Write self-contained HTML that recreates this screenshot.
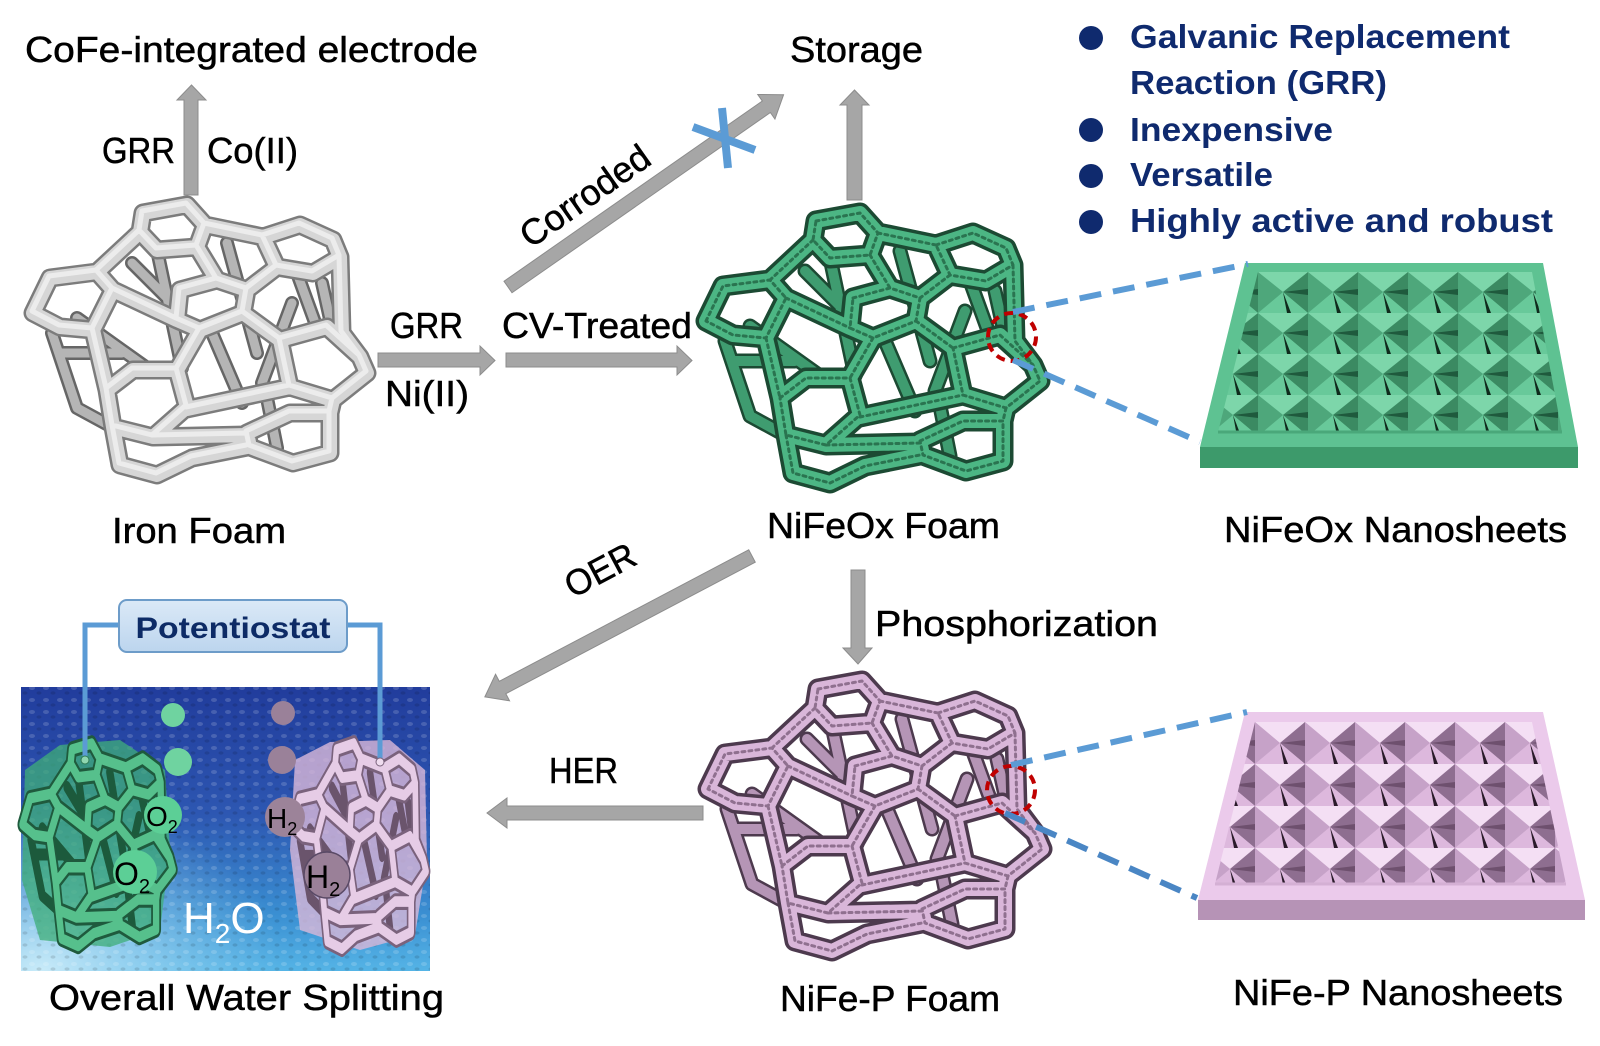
<!DOCTYPE html>
<html><head><meta charset="utf-8">
<style>
html,body{margin:0;padding:0;background:#fff;}
svg{display:block;}
text{font-family:"Liberation Sans",sans-serif;}
</style></head><body>
<svg width="1600" height="1046" viewBox="0 0 1600 1046" xmlns="http://www.w3.org/2000/svg" xmlns:xlink="http://www.w3.org/1999/xlink">
<defs>
 <path id="latB" d="M125,47 L150,165 M195,40 L225,150 M45,115 L115,165 M265,70 L285,125 M235,195 L245,245 M20,130 L45,205 L80,224 M290,80 L300,125 M100,60 L140,100 M180,130 L210,200 M260,100 L230,180 M30,150 L90,150"/>
 <path id="latF" d="M111,10 L155,2 L173,22 L165,44 L125,47 L108,29 Z M231,34 L268,22 L301,37 L308,54 L281,70 L245,64 Z M1,110 L18,75 L65,69 L81,87 L61,127 L28,124 Z M148,87 L185,77 L215,87 L211,110 L168,127 L145,117 Z M248,137 L295,124 L328,154 L335,170 L301,197 L258,184 Z M75,187 L101,167 L145,167 L155,204 L121,234 L81,224 Z M215,230 L258,210 L298,210 L298,250 L261,260 L218,244 Z M108,29 L65,69 M173,22 L231,34 M165,44 L185,77 M245,64 L215,87 M308,54 L310,130 L328,154 M61,127 L75,187 M81,87 L145,117 M211,110 L248,137 M168,127 L145,167 M155,206 L258,184 M121,234 L215,232 M301,197 L298,210 M81,224 L88,262 L125,272 L160,255 L215,244"/>

 <pattern id="gp" x="1258" y="272" width="50" height="41" patternUnits="userSpaceOnUse">
  <rect width="50" height="41" fill="#5cbf8f"/>
  <polygon points="0,0 50,0 25,20" fill="#7dd6aa"/>
  <polygon points="50,0 50,41 25,20" fill="#3b8a62"/>
  <polygon points="0,41 50,41 25,20" fill="#68c99a"/>
  <polygon points="0,0 0,41 25,20" fill="#4ea77b"/>
  <polygon points="25,20 33,41 29,41" fill="#0f2a1c"/>
  <polygon points="25,20 50,17 50,23" fill="#1f5a3d"/>
 </pattern>
 <pattern id="pp" x="1255" y="722" width="50" height="42" patternUnits="userSpaceOnUse">
  <rect width="50" height="42" fill="#e6c3e6"/>
  <polygon points="0,0 50,0 25,21" fill="#f4dff4"/>
  <polygon points="50,0 50,42 25,21" fill="#8e6e90"/>
  <polygon points="0,42 50,42 25,21" fill="#ddb8dd"/>
  <polygon points="0,0 0,42 25,21" fill="#c6a2c8"/>
  <polygon points="25,21 33,42 29,42" fill="#2a1a2a"/>
  <polygon points="25,21 50,18 50,24" fill="#6e506e"/>
 </pattern>

 <linearGradient id="water" x1="0" y1="0" x2="0" y2="1">
  <stop offset="0" stop-color="#213c9c"/>
  <stop offset="0.45" stop-color="#2d57b2"/>
  <stop offset="0.8" stop-color="#3a8fd2"/>
  <stop offset="1" stop-color="#55b4e6"/>
 </linearGradient>
 <radialGradient id="waterL" cx="0.05" cy="1" r="0.6">
  <stop offset="0" stop-color="#d6f1fb" stop-opacity="0.9"/>
  <stop offset="1" stop-color="#9ed8f2" stop-opacity="0"/>
 </radialGradient>
 <pattern id="drops" width="14" height="12" patternUnits="userSpaceOnUse">
  <ellipse cx="4" cy="4" rx="3" ry="2" fill="#fff" opacity="0.16"/>
  <ellipse cx="11" cy="9" rx="2.5" ry="1.6" fill="#000" opacity="0.12"/>
 </pattern>
 <linearGradient id="pbox" x1="0" y1="0" x2="0" y2="1">
  <stop offset="0" stop-color="#dbe9f7"/>
  <stop offset="1" stop-color="#bcd5ee"/>
 </linearGradient>
</defs>

<rect width="1600" height="1046" fill="#fff"/>

<!-- ===== Iron foam ===== -->
<g transform="translate(32,203)" fill="none" stroke-linejoin="round" stroke-linecap="round">
 <use xlink:href="#latB" href="#latB" stroke="#666" stroke-width="14"/>
 <use xlink:href="#latB" href="#latB" stroke="#b5b5b5" stroke-width="9"/>
 <use xlink:href="#latF" href="#latF" stroke="#7c7c7c" stroke-width="19"/>
 <use xlink:href="#latF" href="#latF" stroke="#d6d6d6" stroke-width="14"/>
 <use xlink:href="#latF" href="#latF" stroke="#ececec" stroke-width="5" transform="translate(-1,-2)"/>
</g>

<!-- ===== Green NiFeOx foam ===== -->
<g transform="translate(705,211)" fill="none" stroke-linejoin="round" stroke-linecap="round">
 <use xlink:href="#latB" href="#latB" stroke="#1c4a33" stroke-width="15"/>
 <use xlink:href="#latB" href="#latB" stroke="#3f9c70" stroke-width="10"/>
 <use xlink:href="#latF" href="#latF" stroke="#1c4a33" stroke-width="21"/>
 <use xlink:href="#latF" href="#latF" stroke="#4cb684" stroke-width="14"/>
 <use xlink:href="#latF" href="#latF" stroke="#2a7450" stroke-width="3" stroke-dasharray="3 4"/>
</g>

<!-- ===== Pink NiFe-P foam ===== -->
<g transform="translate(707,679)" fill="none" stroke-linejoin="round" stroke-linecap="round">
 <use xlink:href="#latB" href="#latB" stroke="#4d3a4e" stroke-width="15"/>
 <use xlink:href="#latB" href="#latB" stroke="#b595b6" stroke-width="10"/>
 <use xlink:href="#latF" href="#latF" stroke="#4d3a4e" stroke-width="21"/>
 <use xlink:href="#latF" href="#latF" stroke="#d9b6d9" stroke-width="14"/>
 <use xlink:href="#latF" href="#latF" stroke="#8f708f" stroke-width="3" stroke-dasharray="3 4"/>
</g>

<!-- ===== Green nanosheet ===== -->
<polygon points="1200,447 1578,447 1578,468 1200,468" fill="#3d9a6b"/>
<polygon points="1245,263 1543,263 1578,447 1200,447" fill="#5ec292"/>
<polygon points="1258,272 1532,272 1562,432 1218,432" fill="url(#gp)"/>
<line x1="1218" y1="432" x2="1562" y2="432" stroke="#4aa87a" stroke-width="3"/>

<!-- ===== Pink nanosheet ===== -->
<polygon points="1198,900 1585,900 1585,920 1198,920" fill="#b693b6"/>
<polygon points="1245,712 1543,712 1585,900 1198,900" fill="#ebcaeb"/>
<polygon points="1255,722 1532,722 1566,884 1215,884" fill="url(#pp)"/>
<line x1="1215" y1="884" x2="1566" y2="884" stroke="#d4b0d4" stroke-width="3"/>

<!-- ===== Zoom indicators ===== -->
<circle cx="1012" cy="337" r="24" fill="none" stroke="#c00000" stroke-width="4" stroke-dasharray="9 6"/>
<line x1="1013" y1="312" x2="1248" y2="264" stroke="#5b9bd5" stroke-width="6" stroke-dasharray="22 12"/>
<line x1="1013" y1="360" x2="1200" y2="442" stroke="#5b9bd5" stroke-width="6" stroke-dasharray="22 12"/>
<circle cx="1011" cy="790" r="24" fill="none" stroke="#c00000" stroke-width="4" stroke-dasharray="9 6"/>
<line x1="1011" y1="765" x2="1247" y2="712" stroke="#5b9bd5" stroke-width="6" stroke-dasharray="22 12"/>
<line x1="1005" y1="813" x2="1197" y2="898" stroke="#4a86c4" stroke-width="6" stroke-dasharray="22 12"/>

<!-- ===== Arrows ===== -->
<g fill="#a6a6a6" stroke="#8c8c8c" stroke-width="1">
 <polygon points="184,195 184,100 177,100 191.5,85 206,100 198,100 198,195"/>
 <polygon points="847,200 847,105 840,105 854.5,90 869,105 862,105 862,200"/>
 <polygon points="378,353 480,353 480,346 495,360.5 480,375 480,367 378,367"/>
 <polygon points="506,353 677,353 677,346 692,360.5 677,375 677,367 506,367"/>
 <polygon transform="translate(508,287) rotate(-34.9)" points="0,-7 315,-7 315,-15 336,0 315,15 315,7 0,7"/>
 <polygon transform="translate(752,556) rotate(152.2)" points="0,-7 282,-7 282,-15 302,0 282,15 282,7 0,7"/>
 <polygon points="851,570 865,570 865,648 872,648 858,664 843,648 851,648"/>
 <polygon points="703,806 507,806 507,798 487,813 507,828 507,820 703,820"/>
</g>
<!-- blue X -->
<line x1="693" y1="127" x2="755" y2="150" stroke="#5b9bd5" stroke-width="8"/>
<line x1="722" y1="108" x2="728" y2="168" stroke="#5b9bd5" stroke-width="8"/>

<!-- ===== Water splitting panel ===== -->
<rect x="21" y="687" width="409" height="284" fill="url(#water)"/>
<rect x="21" y="687" width="409" height="284" fill="url(#waterL)"/>
<rect x="21" y="687" width="409" height="284" fill="url(#drops)"/>

<polygon points="25,770 60,745 120,740 165,770 170,850 160,930 110,947 40,940 22,880" fill="#3fae78" opacity="0.75"/>
<g transform="translate(22,742) scale(0.45,0.75)" fill="none" stroke-linejoin="round" stroke-linecap="round">
 <use xlink:href="#latB" href="#latB" stroke="#1c5a3c" stroke-width="16"/>
 <use xlink:href="#latF" href="#latF" stroke="#1f5a3d" stroke-width="22"/>
 <use xlink:href="#latF" href="#latF" stroke="#56c08c" stroke-width="14"/>
</g>
<polygon points="295,760 330,742 390,740 425,770 427,860 415,935 360,950 300,930 290,850" fill="#d9b8d8" opacity="0.8"/>
<g transform="translate(292,742) scale(0.40,0.76)" fill="none" stroke-linejoin="round" stroke-linecap="round">
 <use xlink:href="#latB" href="#latB" stroke="#6a546c" stroke-width="16"/>
 <use xlink:href="#latF" href="#latF" stroke="#7a627c" stroke-width="22"/>
 <use xlink:href="#latF" href="#latF" stroke="#e6cce6" stroke-width="14"/>
</g>

<path d="M119,625 H85 V760 M347,625 H380 V762" fill="none" stroke="#5b9bd5" stroke-width="5"/>
<circle cx="85" cy="760" r="4" fill="#8fd6b0" stroke="#2f7a55"/>
<circle cx="380" cy="762" r="4" fill="#efdcef" stroke="#7a627c"/>

<rect x="119" y="600" width="228" height="52" rx="8" fill="url(#pbox)" stroke="#6d9cc9" stroke-width="2"/>
<text x="233" y="638" font-size="30" font-weight="bold" fill="#0d2b66" text-anchor="middle" textLength="195" lengthAdjust="spacingAndGlyphs">Potentiostat</text>

<circle cx="173" cy="715" r="12" fill="#6fd3a0"/>
<circle cx="178" cy="762" r="14" fill="#6fd3a0"/>
<circle cx="163" cy="815" r="19" fill="#5ccf96"/>
<circle cx="135" cy="872" r="22" fill="#5ccf96"/>
<circle cx="283" cy="713" r="12" fill="#9a8199"/>
<circle cx="282" cy="760" r="14" fill="#9a8199"/>
<circle cx="285" cy="817" r="20" fill="#9c8399"/>
<circle cx="327" cy="875" r="23" fill="#9a8098" stroke="#5a4a66" stroke-width="1.5"/>

<g fill="#000">
 <text x="146" y="826" font-size="28">O<tspan font-size="18" dy="7">2</tspan></text>
 <text x="114" y="885" font-size="32">O<tspan font-size="20" dy="8">2</tspan></text>
 <text x="267" y="828" font-size="28">H<tspan font-size="18" dy="7">2</tspan></text>
 <text x="306" y="888" font-size="32">H<tspan font-size="20" dy="8">2</tspan></text>
</g>
<text x="183" y="933" font-size="44" fill="#fff">H<tspan font-size="28" dy="10">2</tspan><tspan dy="-10" font-size="44">O</tspan></text>

<!-- ===== Labels ===== -->
<g fill="#000" stroke="#000" stroke-width="0.5" font-size="36">
 <text x="25" y="62" textLength="453" lengthAdjust="spacingAndGlyphs">CoFe-integrated electrode</text>
 <text x="102" y="163" textLength="73" lengthAdjust="spacingAndGlyphs">GRR</text>
 <text x="207" y="163" textLength="91" lengthAdjust="spacingAndGlyphs">Co(II)</text>
 <text x="790" y="62" textLength="133" lengthAdjust="spacingAndGlyphs">Storage</text>
 <text transform="translate(592,206) rotate(-35)" text-anchor="middle" textLength="150" lengthAdjust="spacingAndGlyphs">Corroded</text>
 <text x="390" y="338" textLength="73" lengthAdjust="spacingAndGlyphs">GRR</text>
 <text x="502" y="338" textLength="190" lengthAdjust="spacingAndGlyphs">CV-Treated</text>
 <text x="385" y="406" textLength="84" lengthAdjust="spacingAndGlyphs">Ni(II)</text>
 <text x="112" y="543" textLength="174" lengthAdjust="spacingAndGlyphs">Iron Foam</text>
 <text x="767" y="538" textLength="233" lengthAdjust="spacingAndGlyphs">NiFeOx Foam</text>
 <text x="1224" y="542" textLength="343" lengthAdjust="spacingAndGlyphs">NiFeOx Nanosheets</text>
 <text transform="translate(606,581) rotate(-28)" text-anchor="middle" textLength="75" lengthAdjust="spacingAndGlyphs">OER</text>
 <text x="875" y="636" textLength="283" lengthAdjust="spacingAndGlyphs">Phosphorization</text>
 <text x="549" y="783" textLength="69" lengthAdjust="spacingAndGlyphs">HER</text>
 <text x="49" y="1010" textLength="395" lengthAdjust="spacingAndGlyphs">Overall Water Splitting</text>
 <text x="780" y="1011" textLength="220" lengthAdjust="spacingAndGlyphs">NiFe-P Foam</text>
 <text x="1233" y="1005" textLength="330" lengthAdjust="spacingAndGlyphs">NiFe-P Nanosheets</text>
</g>

<!-- ===== Bullets ===== -->
<g fill="#0f2a6e">
 <circle cx="1091" cy="38" r="12"/>
 <circle cx="1091" cy="130" r="12"/>
 <circle cx="1091" cy="176" r="12"/>
 <circle cx="1091" cy="222" r="12"/>
 <g font-size="33" font-weight="bold">
  <text x="1130" y="48" textLength="380" lengthAdjust="spacingAndGlyphs">Galvanic Replacement</text>
  <text x="1130" y="94" textLength="257" lengthAdjust="spacingAndGlyphs">Reaction (GRR)</text>
  <text x="1130" y="141" textLength="203" lengthAdjust="spacingAndGlyphs">Inexpensive</text>
  <text x="1130" y="186" textLength="143" lengthAdjust="spacingAndGlyphs">Versatile</text>
  <text x="1130" y="232" textLength="423" lengthAdjust="spacingAndGlyphs">Highly active and robust</text>
 </g>
</g>
</svg>
</body></html>
